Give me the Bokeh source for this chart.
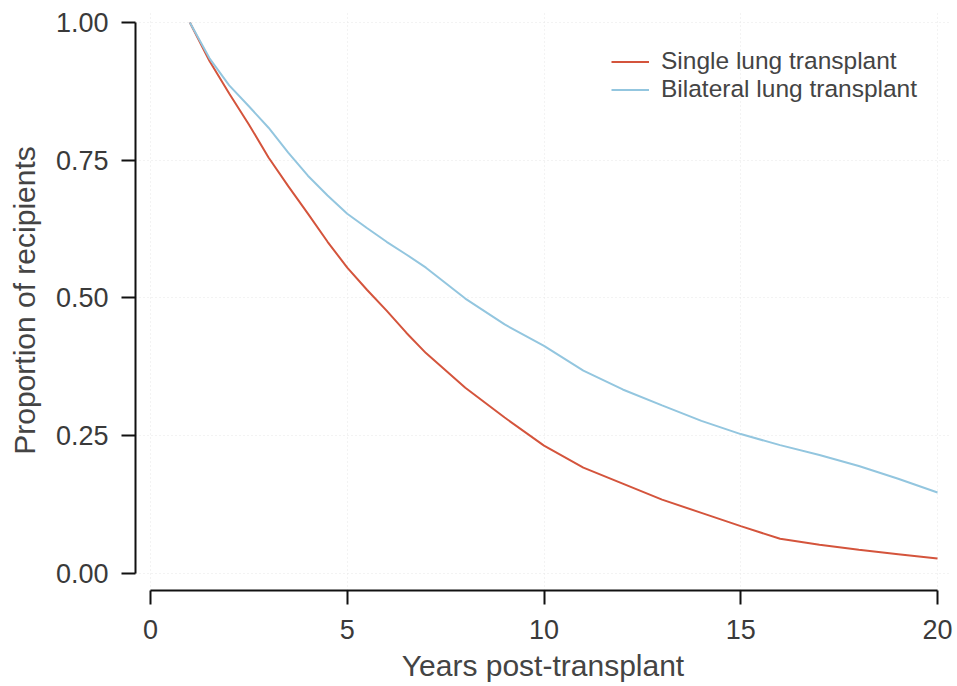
from bokeh.plotting import figure
from bokeh.models import Range1d, FixedTicker, Legend, LegendItem
from bokeh.embed import file_html
from bokeh.resources import INLINE

years = [1, 1.5, 2, 2.5, 3, 3.5, 4, 4.5, 5, 5.5, 6, 6.5, 7, 8, 9, 10, 11, 12, 13, 14, 15, 16, 17, 18, 19, 20]
single = [1.00, 0.93, 0.871, 0.815, 0.755, 0.703, 0.653, 0.602, 0.555, 0.515, 0.477, 0.437, 0.400, 0.337, 0.283,
          0.232, 0.192, 0.163, 0.134, 0.110, 0.086, 0.063, 0.052, 0.043, 0.035, 0.027]
bilateral = [1.00, 0.935, 0.886, 0.848, 0.809, 0.764, 0.722, 0.686, 0.653, 0.627, 0.602, 0.579, 0.555, 0.499, 0.452,
             0.413, 0.368, 0.334, 0.305, 0.277, 0.253, 0.233, 0.215, 0.195, 0.172, 0.147]

x_ticks = [0, 5, 10, 15, 20]
y_ticks = [0, 0.25, 0.5, 0.75, 1.0]
y_tick_labels = ["0.00", "0.25", "0.50", "0.75", "1.00"]
series_names = ["Single lung transplant", "Bilateral lung transplant"]
colors = ["#d4543c", "#93c6df"]

FONT = "Liberation Sans"

p = figure(width=957, height=686, output_backend="svg", toolbar_location=None,
           x_range=Range1d(-0.381, 20.33), y_range=Range1d(-0.0309, 1.0218),
           min_border_left=135, min_border_right=7, min_border_top=10, min_border_bottom=96)
p.outline_line_color = None
p.background_fill_color = "white"

for ax, ticks in ((p.xaxis, x_ticks), (p.yaxis, y_ticks)):
    ax.ticker = FixedTicker(ticks=ticks)
    ax.axis_line_width = 2
    ax.axis_line_color = "#111111"
    ax.major_tick_line_width = 2
    ax.major_tick_line_color = "#111111"
    ax.major_tick_out = 14
    ax.major_tick_in = 0
    ax.minor_tick_line_color = None
    ax.major_label_text_font = FONT
    ax.major_label_text_font_size = "27px"
    ax.major_label_text_color = "#3a3a3a"
    ax.axis_label_text_font = FONT
    ax.axis_label_text_font_size = "30px"
    ax.axis_label_text_font_style = "normal"
    ax.axis_label_text_color = "#444444"

p.xaxis.bounds = (0, 20)
p.yaxis.bounds = (0, 1)
p.yaxis.major_label_overrides = {t: l for t, l in zip(y_ticks, y_tick_labels)}
p.xaxis.axis_label = "Years post-transplant"
p.yaxis.axis_label = "Proportion of recipients"
p.xaxis.major_label_standoff = 15
p.yaxis.major_label_standoff = 13
p.xaxis.axis_label_standoff = 7
p.yaxis.axis_label_standoff = 12

for g in (p.xgrid, p.ygrid):
    g.grid_line_color = "#e6e6e6"
    g.grid_line_dash = "1 3"
    g.grid_line_width = 1
p.xgrid.ticker = FixedTicker(ticks=x_ticks)
p.ygrid.ticker = FixedTicker(ticks=y_ticks)

r1 = p.line(years, single, line_color=colors[0], line_width=2)
r2 = p.line(years, bilateral, line_color=colors[1], line_width=2)

legend = Legend(items=[LegendItem(label=series_names[0], renderers=[r1]),
                       LegendItem(label=series_names[1], renderers=[r2])],
                location=(476, 487))
legend.border_line_color = None
legend.background_fill_alpha = 0
legend.label_text_font = FONT
legend.label_text_font_size = "24.5px"
legend.label_text_color = "#444444"
legend.glyph_width = 38
legend.label_standoff = 12
legend.spacing = 0
legend.padding = 0
legend.margin = 0
legend.label_height = 25
legend.glyph_height = 25
p.add_layout(legend)

open("out.html", "w").write(file_html(p, INLINE))
